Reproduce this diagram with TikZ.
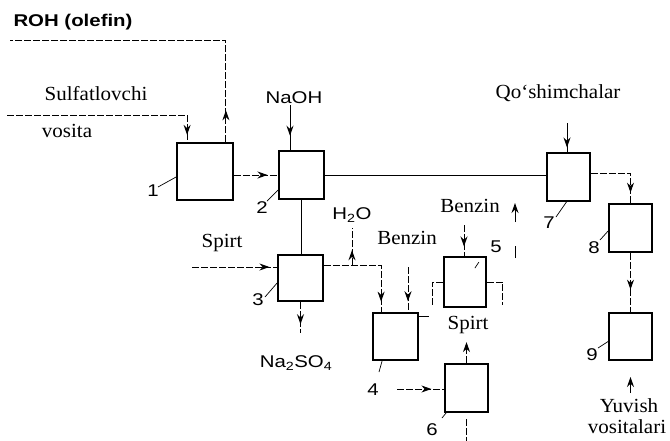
\documentclass[tikz,border=0pt]{standalone}
\usepackage{fontspec}
\setmainfont{Liberation Serif}[FakeStretch=1.05]
\newfontfamily\lsans{Liberation Sans}[FakeStretch=1.2]
\usetikzlibrary{arrows.meta,calc,decorations.markings}
\begin{document}
\begin{tikzpicture}[x=1pt,y=-1pt,
  box/.style={draw,line width=1.8pt,minimum width=44pt,minimum height=47pt,inner sep=0pt},
  ln/.style={line width=1pt},
  dl/.style={ln,dash pattern=on 7pt off 2pt},
  tip/.style={-{Stealth[length=10pt,width=7pt]}},
  marrow/.style={postaction={decorate},decoration={markings,mark=at position #1 with {\arrow{Stealth[length=10pt,width=7pt]}}}},
  serif/.style={font=\fontsize{20}{22}\selectfont,inner sep=0pt},
  sans/.style={font=\lsans\fontsize{17}{19}\selectfont,inner sep=0pt},
  lead/.style={line width=0.7pt}
]
\useasboundingbox (0,0) rectangle (670,440);

% boxes
\node[box,minimum width=56pt,minimum height=57pt] (b1) at (205,171.5) {};
\node[box,minimum width=45pt,minimum height=48pt] (b2) at (301.5,175) {};
\node[box,minimum width=45pt,minimum height=46pt] (b3) at (300.5,278) {};
\node[box,minimum width=45pt] (b4) at (395.5,336.5) {};
\node[box,minimum width=42pt,minimum height=50pt] (b5) at (465,282) {};
\node[box,minimum width=43pt,minimum height=48pt] (b6) at (466.5,388) {};
\node[box,minimum width=43pt,minimum height=48pt] (b7) at (568.5,177) {};
\node[box,minimum width=43pt,minimum height=48pt] (b8) at (630.5,228) {};
\node[box,minimum width=43pt] (b9) at (630.5,336.5) {};

% texts
\node[sans] (troh) at (73,22) {\bfseries ROH (olefin)};
\node[serif] (tsul) at (96,94) {Sulfatlovchi};
\node[serif] (tvos) at (67,131) {vosita};
\node[sans] (tnaoh) at (294,98) {NaOH};
\node[serif] (tqo) at (558,93) {Qo‘shimchalar};
\node[serif] (tsp1) at (222,243) {Spirt};
\node[sans] (th2o) at (352,215) {H\textsubscript{2}O};
\node[serif] (tbz1) at (407,238) {Benzin};
\node[serif] (tbz2) at (470,206) {Benzin};
\node[serif] (tsp2) at (468,325) {Spirt};
\node[sans] (tna) at (296,363) {Na\textsubscript{2}SO\textsubscript{4}};
\node[serif] (tyu) at (629,406) {Yuvish};
\node[serif,anchor=base] (tvo) at (627,433) {vositalari};

% number labels
\node[sans] (l1) at (153,191) {1};
\node[sans] (l2) at (262,208) {2};
\node[sans] (l3) at (258,300) {3};
\node[sans] (l4) at (373,390) {4};
\node[sans] (l5) at (496,247) {5};
\node[sans] (l6) at (432,430) {6};
\node[sans] (l7) at (549,223) {7};
\node[sans] (l8) at (594,248) {8};
\node[sans] (l9) at (592,355) {9};

% leaders
\draw[lead] ($(l1)+(5,-4)$) -- ($(b1.west)+(0,5.5)$);
\draw[lead] ($(l2)+(5,-7)$) -- ($(b2.west)+(0,15)$);
\draw[lead] ($(l3)+(7,-3)$) -- ($(b3.west)+(0,5)$);
\draw[lead] ($(l4)+(6,-18)$) -- ($(b4.south west)+(10,0)$);
\draw[lead] ($(b5.north east)+(-8,6)$) -- ($(b5.north east)+(-12,12)$);
\draw[lead] ($(l6)+(10,-12)$) -- ($(b6.south west)+(2,0)$);
\draw[lead] ($(l7)+(7,-6)$) -- ($(b7.south)+(-2,0)$);
\draw[lead] ($(l8)+(6,-8)$) -- ($(b8.west)+(0,3)$);
\draw[lead] ($(l9)+(6,-7)$) -- ($(b9.west)+(0,5)$);

% ROH line
\coordinate (roh0) at (10,40);
\coordinate (r1) at ($(b1.north east)+(-8,0)$);
\draw[dl,marrow=0.1] (r1) |- (roh0);

% Sulfatlovchi line
\coordinate (s0) at (7,115);
\coordinate (s1) at ($(b1.north west)+(11,0)$);
\draw[dl,marrow=0.965] (s0) -| (s1);

% NaOH
\coordinate (n0) at ($(b2.north)+(-11.5,-45)$);
\draw[ln,marrow=0.68] (n0) -- (n0 |- b2.north);

% 1 -> 2
\draw[dl,marrow=0.76] (b1.east |- b2.east) -- (b2.west);

% 2 -> 7
\draw[ln] (b2.east) -- (b2.east -| b7.west);

% 2 -> 3
\draw[ln] (b2.south) -- (b2.south |- b3.north);

% Qo'shimchalar
\coordinate (q0) at (567,123);
\draw[ln,marrow=0.84] (q0) -- (q0 |- b7.north);

% 7 -> 8
\coordinate (c78) at ($(b7.east)+(0,-4)$);
\draw[dl,marrow=0.85] (c78) -| (b8.north);

% Spirt -> 3
\coordinate (sp0) at (192,267);
\draw[dl,marrow=0.91] (sp0) -- (sp0 -| b3.west);

% 3 -> Na2SO4
\coordinate (na0) at ($(b3.south)+(0,31)$);
\draw[dl,marrow=0.72] (b3.south) -- (na0);

% 3 -> 4
\coordinate (c34) at ($(b3.east)+(0,-13)$);
\coordinate (c4a) at ($(b4.north west)+(9,0)$);
\draw[dl,marrow=0.9] (c34) -| (c4a);

% H2O
\coordinate (h1) at (352,228);
\draw[dl,marrow=0.4] (h1 |- c34) -- (h1);

% Benzin -> 4
\coordinate (bz4) at (408,267);
\draw[dl,marrow=0.76] (bz4) -- (bz4 |- b4.north);

% Benzin -> 5
\coordinate (bz5) at (464,225);
\draw[dl,marrow=0.69] (bz5) -- (bz5 |- b5.north);

% brackets on 5
\coordinate (bl) at ($(b5.west)+(-11,23)$);
\coordinate (br) at ($(b5.east)+(16,23)$);
\draw[dl] (b5.west) -| (bl);
\draw[dl] (b5.east) -| (br);

% short line at 4
\coordinate (c4r) at ($(b4.north east)+(10,4)$);
\draw[ln] ($(b4.north east)+(0,4)$) -- (c4r);

% 4 -> 6
\coordinate (c46) at (397,389);
\draw[dl,marrow=0.73] (c46) -- (c46 -| b6.west);

% 6 -> Spirt (up)
\coordinate (c6u) at ($(b6.north)+(0,-21)$);
\draw[dl,tip] (b6.north) -- (c6u);

% 6 bottom
\coordinate (c6d) at ($(b6.south)+(0,6)$);
\coordinate (c6e) at ($(b6.south)+(0,30)$);
\draw[dl] (c6d) -- (c6e);

% Benzin out (up)
\coordinate (u0) at (515,258);
\coordinate (u1) at (515,203);
\draw[ln,dash pattern=on 12pt off 24pt on 24pt,tip] (u0) -- (u1);

% 8 -> 9
\draw[dl,marrow=0.62] (b8.south) -- (b9.north);

% Yuvish up arrow
\coordinate (y0) at (630.5,393);
\coordinate (y1) at (630.5,377);
\draw[ln,tip] (y0) -- (y1);
\end{tikzpicture}
\end{document}
